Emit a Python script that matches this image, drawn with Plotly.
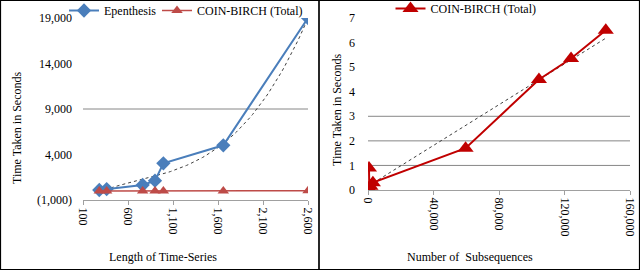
import numpy as np
import plotly.graph_objects as go

# ---- Left chart data ----
ts_length = [281, 363, 763, 900, 993, 1659, 2600]
epenthesis_sec = [100, 200, 650, 1120, 3030, 5010, 19000]
coin_birch_left_sec = [0.2, 0.3, 0.6, 0.8, 0.9, 1.7, 6.5]
left_y_ticks = [-1000, 4000, 9000, 14000, 19000]
left_y_ticktext = ["(1,000)", "4,000", "9,000", "14,000", "19,000"]
left_x_ticks = [100, 600, 1100, 1600, 2100, 2600]
left_x_ticktext = ["100", "600", "1,100", "1,600", "2,100", "2,600"]
left_grid = [9000]

# ---- Right chart data ----
n_subseq = [600, 800, 1500, 3000, 59600, 104400, 124000, 145200]
coin_birch_right_sec = [0.9, 0.05, 0.15, 0.3, 1.7, 4.5, 5.35, 6.5]
right_y_ticks = [0, 1, 2, 3, 4, 5, 6, 7]
right_x_ticks = [0, 40000, 80000, 120000, 160000]
right_x_ticktext = ["0", "40,000", "80,000", "120,000", "160,000"]
right_grid = [1, 2, 3]

FONT = "Liberation Serif"
W, H = 640, 270

def px_x(p):
    return p / W

def px_y(p):
    return 1 - p / H

fig = go.Figure()

# trend lines (fitted from data)
c3 = np.polyfit(ts_length, epenthesis_sec, 3)
tx = np.linspace(min(ts_length), max(ts_length), 80)
fig.add_trace(go.Scatter(x=tx, y=np.polyval(c3, tx), mode="lines",
                         line=dict(color="#404040", width=1, dash="dot"),
                         showlegend=False, xaxis="x", yaxis="y", hoverinfo="skip"))

fig.add_trace(go.Scatter(x=ts_length, y=epenthesis_sec, mode="lines+markers",
                         name="Epenthesis",
                         line=dict(color="#4A7EBB", width=2),
                         marker=dict(symbol="diamond", size=11, color="#4A7EBB"),
                         xaxis="x", yaxis="y", legend="legend"))
fig.add_trace(go.Scatter(x=ts_length, y=coin_birch_left_sec, mode="lines+markers",
                         name="COIN-BIRCH (Total)",
                         line=dict(color="#BE4B48", width=1.5),
                         marker=dict(symbol="triangle-up", size=10, color="#BE4B48"),
                         xaxis="x", yaxis="y", legend="legend3"))

c1 = np.polyfit(n_subseq, coin_birch_right_sec, 1)
rx = np.array([0, max(n_subseq)])
fig.add_trace(go.Scatter(x=rx, y=np.polyval(c1, rx), mode="lines",
                         line=dict(color="#404040", width=1, dash="dot"),
                         showlegend=False, xaxis="x2", yaxis="y2", hoverinfo="skip"))
fig.add_trace(go.Scatter(x=n_subseq, y=coin_birch_right_sec, mode="lines+markers",
                         name="COIN-BIRCH (Total)",
                         line=dict(color="#C00000", width=2),
                         marker=dict(symbol="triangle-up", size=14, color="#C00000"),
                         xaxis="x2", yaxis="y2", legend="legend2"))

tickfont = dict(family=FONT, size=12, color="black")
legfont = dict(family=FONT, size=12, color="black")

fig.update_layout(
    width=W, height=H,
    margin=dict(l=0, r=0, t=0, b=0, autoexpand=False),
    paper_bgcolor="white", plot_bgcolor="white",
    font=dict(family=FONT, size=12, color="black"),
    xaxis=dict(domain=[px_x(83), px_x(308)], range=[100, 2600],
               tickvals=left_x_ticks, ticktext=left_x_ticktext, tickangle=90,
               showgrid=False, zeroline=False, showline=True, linecolor="#A0A0A0",
               ticks="outside", ticklen=4, tickcolor="#A0A0A0", tickfont=tickfont,
               anchor="y", automargin=False),
    yaxis=dict(domain=[px_y(200), px_y(18)], range=[-1000, 19000],
               tickvals=left_y_ticks, ticktext=left_y_ticktext,
               showgrid=False, zeroline=False, showline=False,
               ticks="", tickfont=tickfont, ticklabelstandoff=10, anchor="x",
               automargin=False),
    xaxis2=dict(domain=[px_x(368), px_x(630)], range=[0, 160000],
                tickvals=right_x_ticks, ticktext=right_x_ticktext, tickangle=90,
                showgrid=False, zeroline=False, showline=True, linecolor="#A0A0A0",
                ticks="outside", ticklen=4, tickcolor="#A0A0A0", tickfont=tickfont,
                anchor="y2", automargin=False),
    yaxis2=dict(domain=[px_y(190), px_y(18)], range=[0, 7],
                tickvals=right_y_ticks,
                showgrid=False, zeroline=False, showline=False,
                ticks="", tickfont=tickfont, ticklabelstandoff=12, anchor="x2",
                automargin=False),
    legend=dict(orientation="h", x=px_x(64), y=px_y(-4), xanchor="left", yanchor="top",
                font=legfont, bgcolor="rgba(0,0,0,0)", itemwidth=30),
    legend3=dict(orientation="h", x=px_x(157), y=px_y(-4), xanchor="left", yanchor="top",
                 font=legfont, bgcolor="rgba(0,0,0,0)", itemwidth=30),
    legend2=dict(orientation="h", x=px_x(466), y=px_y(-6), xanchor="center", yanchor="top",
                 font=legfont, bgcolor="rgba(0,0,0,0)", itemwidth=30),
    showlegend=True,
)

shapes = []
for g in left_grid:
    shapes.append(dict(type="line", xref="x domain", yref="y", x0=0, x1=1, y0=g, y1=g,
                       line=dict(color="#868686", width=1), layer="below"))
for g in right_grid:
    shapes.append(dict(type="line", xref="x2 domain", yref="y2", x0=0, x1=1, y0=g, y1=g,
                       line=dict(color="#868686", width=1), layer="below"))
# panel borders
shapes.append(dict(type="rect", xref="paper", yref="paper",
                   x0=px_x(0.5), x1=px_x(319), y0=px_y(269.5), y1=px_y(0.5),
                   line=dict(color="black", width=1.2)))
shapes.append(dict(type="rect", xref="paper", yref="paper",
                   x0=px_x(319), x1=px_x(639.5), y0=px_y(269.5), y1=px_y(0.5),
                   line=dict(color="black", width=1.2)))
fig.update_layout(shapes=shapes)

title_font = dict(family=FONT, size=12, color="black")
ann = dict(xref="paper", yref="paper", showarrow=False, font=title_font,
           xanchor="center", yanchor="middle")
fig.add_annotation(text="Time Taken in Seconds", x=px_x(17), y=px_y(128), textangle=-90, **ann)
fig.add_annotation(text="Time Taken in Seconds", x=px_x(337), y=px_y(110), textangle=-90, **ann)
fig.add_annotation(text="Length of Time-Series", x=px_x(163), y=px_y(257), **ann)
fig.add_annotation(text="Number of  Subsequences", x=px_x(470), y=px_y(257), **ann)

fig.write_html("out.html", config={"displayModeBar": False},
               post_script="document.body.style.margin='0';document.body.style.padding='0';")
